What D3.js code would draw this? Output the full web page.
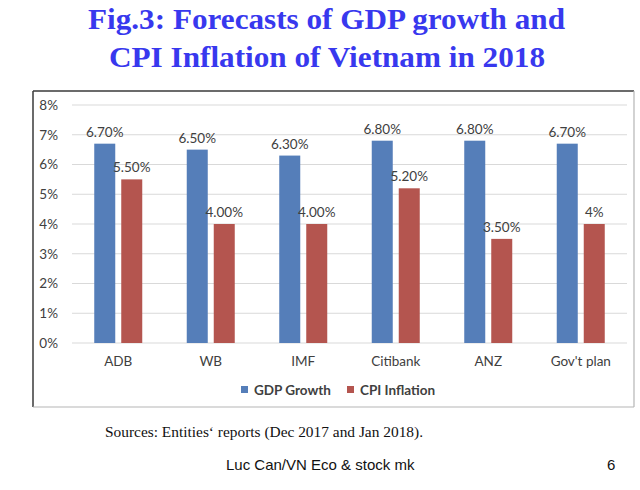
<!DOCTYPE html>
<html><head><meta charset="utf-8">
<script src="https://cdn.jsdelivr.net/npm/d3@7"></script>
<style>body{margin:0;background:#fff}svg{display:block}</style>
</head><body>
<svg id="c" width="640" height="490"></svg>
<script>
const categories = ["ADB","WB","IMF","Citibank","ANZ","Gov't plan"];
const gdpGrowth = [6.7,6.5,6.3,6.8,6.8,6.7];
const cpiInflation = [5.5,4.0,4.0,5.2,3.5,4.0];
const gdpLabels = ["6.70%","6.50%","6.30%","6.80%","6.80%","6.70%"];
const cpiLabels = ["5.50%","4.00%","4.00%","5.20%","3.50%","4%"];
const yTicks = [0,1,2,3,4,5,6,7,8];
const seriesNames = ["GDP Growth","CPI Inflation"];
const colors = ["#557EB9","#B4554F"];

const svg = d3.select("#c");
const chartFont = "Lato, 'Open Sans', sans-serif";

// Title
const tAttrs = {"font-family":"'Liberation Serif', 'Times New Roman', serif","font-weight":"bold","font-size":30,"fill":"#3838EE"};
const t1 = svg.append("text").attr("x",88).attr("y",29).attr("textLength",477).attr("lengthAdjust","spacingAndGlyphs").text("Fig.3: Forecasts of GDP growth and");
const t2 = svg.append("text").attr("x",109).attr("y",67).attr("textLength",436).attr("lengthAdjust","spacingAndGlyphs").text("CPI Inflation of Vietnam in 2018");
[t1,t2].forEach(t=>Object.entries(tAttrs).forEach(([k,v])=>t.attr(k,v)));

// Frame
svg.append("line").attr("x1",33).attr("x2",33).attr("y1",91).attr("y2",407).attr("stroke","#3a3a3a").attr("stroke-width",1.5);
svg.append("line").attr("x1",33).attr("x2",634).attr("y1",91).attr("y2",91).attr("stroke","#3a3a3a").attr("stroke-width",1.5);
svg.append("line").attr("x1",634).attr("x2",634).attr("y1",91).attr("y2",407).attr("stroke","#b5b5b5").attr("stroke-width",1.2);
svg.append("line").attr("x1",33).attr("x2",634).attr("y1",407).attr("y2",407).attr("stroke","#b5b5b5").attr("stroke-width",1.2);

const x = d3.scaleBand().domain(categories).range([72,627]).padding(0);
const y = d3.scaleLinear().domain([0,8]).range([343,105]);

// gridlines
svg.append("g").selectAll("line").data(yTicks).join("line")
  .attr("x1",72).attr("x2",627)
  .attr("y1",d=>y(d)).attr("y2",d=>y(d))
  .attr("stroke","#d9d9d9").attr("stroke-width",1);

// y labels
const yAxis = d3.axisLeft(y).tickValues(yTicks).tickFormat(d=>d+"%").tickSize(0).tickPadding(0);
const ya = svg.append("g").attr("transform","translate(58,0)").call(yAxis);
ya.select(".domain").remove();
ya.selectAll("text").attr("font-family",chartFont).attr("font-size",13.5).attr("fill","#404040");

// x labels
const xAxis = d3.axisBottom(x).tickSize(0).tickPadding(0);
const xa = svg.append("g").attr("transform","translate(0,356)").call(xAxis);
xa.select(".domain").remove();
xa.selectAll("text").attr("font-family",chartFont).attr("font-size",13.5).attr("fill","#404040");

const bw = 21, gap = 6;
const series = [gdpGrowth, cpiInflation];
const labels = [gdpLabels, cpiLabels];
series.forEach((vals,si)=>{
  const off = si===0 ? -gap/2-bw : gap/2;
  const g = svg.append("g");
  g.selectAll("rect").data(vals).join("rect")
    .attr("x",(d,i)=>x(categories[i])+x.bandwidth()/2+off)
    .attr("y",d=>y(d)).attr("width",bw).attr("height",d=>y(0)-y(d))
    .attr("fill",colors[si]);
  g.selectAll("text").data(vals).join("text")
    .attr("x",(d,i)=>x(categories[i])+x.bandwidth()/2+off+bw/2)
    .attr("y",d=>y(d)-7)
    .attr("text-anchor","middle")
    .attr("font-family",chartFont).attr("font-size",13.5).attr("fill","#404040")
    .text((d,i)=>labels[si][i]);
});

// legend
const legX = [241,347];
seriesNames.forEach((n,i)=>{
  svg.append("rect").attr("x",legX[i]).attr("y",386).attr("width",7).attr("height",7).attr("fill",colors[i]);
  svg.append("text").attr("x",legX[i]+13).attr("y",395)
    .attr("font-family",chartFont).attr("font-weight","bold").attr("font-size",13.5).attr("fill","#404040").text(n);
});

// sources & footer
svg.append("text").attr("x",105).attr("y",437)
  .attr("font-family","'Liberation Serif', 'Times New Roman', serif").attr("font-size",15.4).attr("fill","#111")
  .text("Sources: Entities\u2018 reports (Dec 2017 and Jan 2018).");
svg.append("text").attr("x",226).attr("y",470)
  .attr("font-family","'Liberation Sans', Arial, sans-serif").attr("font-size",15).attr("fill","#111")
  .text("Luc Can/VN Eco & stock mk");
svg.append("text").attr("x",607).attr("y",470)
  .attr("font-family","'Liberation Sans', Arial, sans-serif").attr("font-size",15).attr("fill","#111")
  .text("6");
</script>
</body></html>
